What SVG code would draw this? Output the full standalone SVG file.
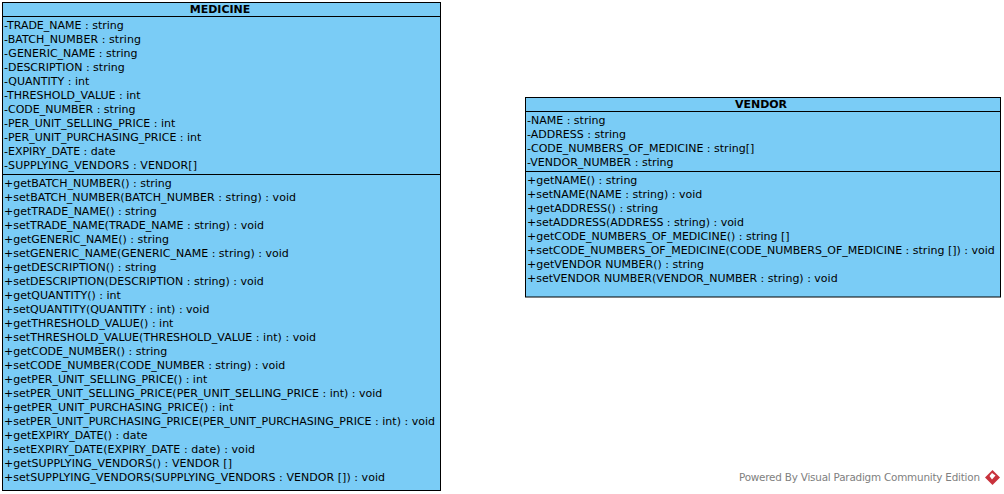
<svg xmlns="http://www.w3.org/2000/svg" width="1004" height="494" viewBox="0 0 1004 494">
<style>
text{font-family:"DejaVu Sans",sans-serif;font-size:11px;fill:#000}
.box{fill:#7accf6;stroke:#000;stroke-width:1}
.sep{stroke:#000;stroke-width:1;fill:none}
.title{font-weight:bold;text-anchor:middle}
.wm{fill:#808080;font-size:10.4px}
</style>
<rect width="1004" height="494" fill="#fff"/>
<g id="connectors"></g>
<g id="medicine">
<rect class="box" x="2.500" y="2.500" width="438" height="488"/>
<path class="sep" d="M2.500 16.500H440.500M2.500 174.500H440.500"/>
<text class="title" x="220" y="13">MEDICINE</text>
<text x="4" y="29">-TRADE_NAME : string</text>
<text x="4" y="43" textLength="137">-BATCH_NUMBER : string</text>
<text x="4" y="57">-GENERIC_NAME : string</text>
<text x="4" y="71">-DESCRIPTION : string</text>
<text x="4" y="85">-QUANTITY : int</text>
<text x="4" y="99">-THRESHOLD_VALUE : int</text>
<text x="4" y="113">-CODE_NUMBER : string</text>
<text x="4" y="127">-PER_UNIT_SELLING_PRICE : int</text>
<text x="4" y="141">-PER_UNIT_PURCHASING_PRICE : int</text>
<text x="4" y="155">-EXPIRY_DATE : date</text>
<text x="4" y="169" textLength="193">-SUPPLYING_VENDORS : VENDOR[]</text>
<text x="4" y="187">+getBATCH_NUMBER() : string</text>
<text x="4" y="201" textLength="292">+setBATCH_NUMBER(BATCH_NUMBER : string) : void</text>
<text x="4" y="215">+getTRADE_NAME() : string</text>
<text x="4" y="229">+setTRADE_NAME(TRADE_NAME : string) : void</text>
<text x="4" y="243">+getGENERIC_NAME() : string</text>
<text x="4" y="257">+setGENERIC_NAME(GENERIC_NAME : string) : void</text>
<text x="4" y="271">+getDESCRIPTION() : string</text>
<text x="4" y="285">+setDESCRIPTION(DESCRIPTION : string) : void</text>
<text x="4" y="299">+getQUANTITY() : int</text>
<text x="4" y="313">+setQUANTITY(QUANTITY : int) : void</text>
<text x="4" y="327">+getTHRESHOLD_VALUE() : int</text>
<text x="4" y="341" textLength="312">+setTHRESHOLD_VALUE(THRESHOLD_VALUE : int) : void</text>
<text x="4" y="355">+getCODE_NUMBER() : string</text>
<text x="4" y="369">+setCODE_NUMBER(CODE_NUMBER : string) : void</text>
<text x="4" y="383">+getPER_UNIT_SELLING_PRICE() : int</text>
<text x="4" y="397">+setPER_UNIT_SELLING_PRICE(PER_UNIT_SELLING_PRICE : int) : void</text>
<text x="4" y="411">+getPER_UNIT_PURCHASING_PRICE() : int</text>
<text x="4" y="425" textLength="431">+setPER_UNIT_PURCHASING_PRICE(PER_UNIT_PURCHASING_PRICE : int) : void</text>
<text x="4" y="439">+getEXPIRY_DATE() : date</text>
<text x="4" y="453" textLength="251">+setEXPIRY_DATE(EXPIRY_DATE : date) : void</text>
<text x="4" y="467" textLength="228">+getSUPPLYING_VENDORS() : VENDOR []</text>
<text x="4" y="481" textLength="381">+setSUPPLYING_VENDORS(SUPPLYING_VENDORS : VENDOR []) : void</text>
</g>
<g id="vendor">
<rect class="box" x="525.500" y="97.500" width="475" height="199.500"/>
<path class="sep" d="M525.500 111.500H1000.500M525.500 171.500H1000.500"/>
<text class="title" x="761" y="108">VENDOR</text>
<text x="527" y="124">-NAME : string</text>
<text x="527" y="138">-ADDRESS : string</text>
<text x="527" y="152">-CODE_NUMBERS_OF_MEDICINE : string[]</text>
<text x="527" y="166">-VENDOR_NUMBER : string</text>
<text x="527" y="184">+getNAME() : string</text>
<text x="527" y="198">+setNAME(NAME : string) : void</text>
<text x="527" y="212">+getADDRESS() : string</text>
<text x="527" y="226">+setADDRESS(ADDRESS : string) : void</text>
<text x="527" y="240">+getCODE_NUMBERS_OF_MEDICINE() : string []</text>
<text x="527" y="254">+setCODE_NUMBERS_OF_MEDICINE(CODE_NUMBERS_OF_MEDICINE : string []) : void</text>
<text x="527" y="268">+getVENDOR NUMBER() : string</text>
<text x="527" y="282">+setVENDOR NUMBER(VENDOR_NUMBER : string) : void</text>
</g>
<g id="watermark">
<text class="wm" x="739" y="481" textLength="241">Powered By Visual Paradigm Community Edition</text>
<path d="M992.500 470L1000 477.500L992.500 485L985 477.500Z" fill="#c8323c"/>
<path d="M992 473L995.500 475.500L992 479.500L989.500 476Z" fill="#fff"/>
</g>
</svg>
